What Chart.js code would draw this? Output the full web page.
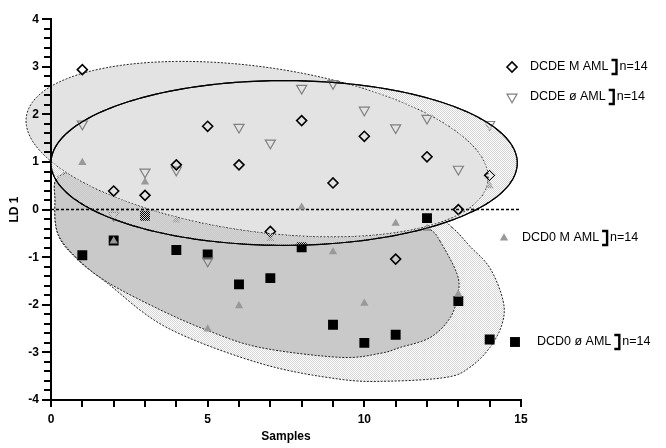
<!DOCTYPE html>
<html>
<head>
<meta charset="utf-8">
<script src="https://cdn.jsdelivr.net/npm/chart.js@4.4.0/dist/chart.umd.min.js"></script>
<style>
  html, body { margin: 0; padding: 0; background: #fff; }
  #wrap { width: 666px; height: 448px; position: relative; }
</style>
</head>
<body>
<div id="wrap"><canvas id="c" width="666" height="448"></canvas></div>
<script>
// Sample index on the x axis
const samples = [1, 2, 3, 4, 5, 6, 7, 8, 9, 10, 11, 12, 13, 14];

// LD 1 scores per group
const dcdeM = [2.94, 0.39, 0.30, 0.94, 1.75, 0.94, -0.46, 1.87, 0.56, 1.54, -1.04, 1.11, 0.00, 0.72];
const dcdeO = [1.80, -0.12, 0.79, 0.83, -1.08, 1.73, 1.40, 2.55, 2.65, 2.09, 1.72, 1.92, 0.85, 1.79];
const dcd0M = [0.99, -0.66, 0.58, -0.22, -2.51, -2.02, -0.61, 0.05, -0.89, -1.97, -0.29, -0.40, -1.78, 0.50];
const dcd0O = [-0.96, -0.65, -0.13, -0.85, -0.94, -1.57, -1.44, -0.79, -2.42, -2.80, -2.63, -0.18, -1.92, -2.73];

// Group names and sizes
const groupNames = ['DCDE M AML', 'DCDE ø AML', 'DCD0 M AML', 'DCD0 ø AML'];
const groupN = ['n=14', 'n=14', 'n=14', 'n=14'];

// Axis ranges, tick steps and labelled ticks
const xRange = [0, 15];
const yRange = [-4, 4];
const xStep = 1;
const yStep = 0.2;
const xLabelled = [0, 5, 10, 15];
const yLabelled = [-4, -3, -2, -1, 0, 1, 2, 3, 4];

// Upper group regions (ellipses in data units: centre, half-widths, tilt in degrees)
const regionDcdeDashed = { cx: 6.58, cy: 1.27, rx: 7.44, ry: 1.73, tilt: 8 };
const regionDcdeSolid  = { cx: 7.44, cy: 0.98, rx: 7.44, ry: 1.73, tilt: 0 };

// Lower group regions (closed outlines in data units)
const regionDcd0DarkX = [12.42, 12.96, 12.99, 12.74, 12.10, 11.14, 10.50, 9.22, 6.67, 5.01, 3.48, 1.79, 0.83, 0.22, 0.13, 0.29, 1.88, 4.76, 8.59, 11.30, 12.10];
const regionDcd0DarkY = [-0.667, -1.354, -1.771, -2.271, -2.688, -2.896, -3.021, -3.104, -2.896, -2.542, -2.104, -1.521, -1.021, -0.50, 0.167, 0.708, 0.833, 0.521, 0.104, -0.167, -0.417];
const regionDcd0DotX = [12.80, 13.37, 14.01, 14.43, 14.40, 14.01, 13.37, 12.64, 10.82, 9.22, 6.67, 3.70, 1.79, 0.83, 0.22, 0.13, 0.29, 1.88, 5.39, 9.22, 12.10];
const regionDcd0DotY = [-0.375, -0.771, -1.229, -1.917, -2.396, -2.896, -3.313, -3.521, -3.604, -3.563, -3.229, -2.479, -1.542, -1.042, -0.521, 0.167, 0.729, 0.875, 0.542, 0.167, -0.125];

const pts = (ys) => samples.map((x, i) => ({ x: x, y: ys[i] }));

const FONT = '"Liberation Sans", Arial, sans-serif';

function stipple(ctx, color) {
  const p = document.createElement('canvas');
  p.width = 2; p.height = 2;
  const g = p.getContext('2d');
  g.fillStyle = color;
  g.fillRect(0, 0, 1, 1);
  g.fillRect(1, 1, 1, 1);
  return ctx.createPattern(p, 'repeat');
}

function ellipsePath(ctx, chart, r, fresh = true) {
  const xs = chart.scales.x, ys = chart.scales.y;
  const cx = xs.getPixelForValue(r.cx), cy = ys.getPixelForValue(r.cy);
  const a = Math.abs(xs.getPixelForValue(r.rx) - xs.getPixelForValue(0));
  const b = Math.abs(ys.getPixelForValue(r.ry) - ys.getPixelForValue(0));
  const th = r.tilt * Math.PI / 180, c = Math.cos(th), s = Math.sin(th);
  const steps = 240;
  if (fresh) ctx.beginPath();
  for (let i = 0; i <= steps; i++) {
    const t = i / steps * Math.PI * 2;
    const u = a * Math.cos(t), v = b * Math.sin(t);
    const px = cx + u * c - v * s, py = cy + u * s + v * c;
    if (i === 0) ctx.moveTo(px, py); else ctx.lineTo(px, py);
  }
  ctx.closePath();
}

// Smooth closed curve (Catmull-Rom) through outline vertices
function outlinePath(ctx, chart, xsData, ysData) {
  const xs = chart.scales.x, ys = chart.scales.y;
  const P = xsData.map((x, i) => [xs.getPixelForValue(x), ys.getPixelForValue(ysData[i])]);
  const n = P.length;
  ctx.beginPath();
  ctx.moveTo(P[0][0], P[0][1]);
  for (let i = 0; i < n; i++) {
    const p0 = P[(i - 1 + n) % n], p1 = P[i], p2 = P[(i + 1) % n], p3 = P[(i + 2) % n];
    ctx.bezierCurveTo(
      p1[0] + (p2[0] - p0[0]) / 6, p1[1] + (p2[1] - p0[1]) / 6,
      p2[0] - (p3[0] - p1[0]) / 6, p2[1] - (p3[1] - p1[1]) / 6,
      p2[0], p2[1]);
  }
  ctx.closePath();
}

function dashedOutline(ctx) {
  ctx.save();
  ctx.setLineDash([2, 1.5]);
  ctx.lineWidth = 1;
  ctx.strokeStyle = '#222';
  ctx.stroke();
  ctx.restore();
}

function zeroLine(ctx, chart) {
  const xs = chart.scales.x, ys = chart.scales.y;
  const y = ys.getPixelForValue(0);
  ctx.save();
  ctx.setLineDash([3, 2]);
  ctx.lineWidth = 1.5;
  ctx.strokeStyle = '#000';
  ctx.beginPath();
  ctx.moveTo(xs.getPixelForValue(xRange[0]), y);
  ctx.lineTo(xs.getPixelForValue(xRange[1]), y);
  ctx.stroke();
  ctx.restore();
}

const regionsPlugin = {
  id: 'regions',
  beforeDraw(chart) {
    const ctx = chart.ctx;
    ctx.save();
    outlinePath(ctx, chart, regionDcd0DotX, regionDcd0DotY);
    ctx.fillStyle = stipple(ctx, '#d6d6d6');
    ctx.fill();
    dashedOutline(ctx);
    outlinePath(ctx, chart, regionDcd0DarkX, regionDcd0DarkY);
    ctx.fillStyle = '#c9c9c9';
    ctx.fill();
    dashedOutline(ctx);
    ellipsePath(ctx, chart, regionDcdeSolid);
    ctx.fillStyle = stipple(ctx, '#d4d4d4');
    ctx.fill();
    ellipsePath(ctx, chart, regionDcdeDashed);
    ctx.fillStyle = '#e3e3e3';
    ctx.fill();
    dashedOutline(ctx);
    ellipsePath(ctx, chart, regionDcdeSolid);
    ctx.lineWidth = 1.2;
    ctx.strokeStyle = '#000';
    ctx.stroke();
    zeroLine(ctx, chart);
    ctx.restore();
  },
  afterDatasetsDraw(chart) {
    // the dotted band of the solid region sits over the marks beneath it
    const ctx = chart.ctx;
    ctx.save();
    ellipsePath(ctx, chart, regionDcdeSolid);
    ctx.clip();
    ctx.beginPath();
    ctx.rect(0, 0, chart.width, chart.height);
    ellipsePath(ctx, chart, regionDcdeDashed, false);
    ctx.clip('evenodd');
    ctx.fillStyle = stipple(ctx, '#d4d4d4');
    ctx.fillRect(0, 0, chart.width, chart.height);
    zeroLine(ctx, chart);
    ctx.restore();
    ctx.save();
    ellipsePath(ctx, chart, regionDcdeSolid);
    ctx.lineWidth = 1.2;
    ctx.strokeStyle = '#000';
    ctx.stroke();
    ctx.restore();
  }
};

// Tick marks at every step on both axes, pointing outward
const tickPlugin = {
  id: 'tickMarks',
  afterDraw(chart) {
    const ctx = chart.ctx, xs = chart.scales.x, ys = chart.scales.y;
    const area = chart.chartArea;
    ctx.save();
    ctx.fillStyle = '#000';
    const nx = Math.round((xRange[1] - xRange[0]) / xStep);
    for (let i = 0; i <= nx; i++) {
      const px = Math.round(xs.getPixelForValue(xRange[0] + i * xStep));
      ctx.fillRect(px - 1, area.bottom, 2, 7);
    }
    const ny = Math.round((yRange[1] - yRange[0]) / yStep);
    for (let i = 0; i <= ny; i++) {
      const v = yRange[0] + i * yStep;
      const len = isAt(v, yLabelled) ? 9 : 7;
      const py = Math.round(ys.getPixelForValue(v));
      ctx.fillRect(area.left - len, py - 1, len, 2);
    }
    ctx.restore();
  }
};

const styles = [
  { pointStyle: 'rectRot', radius: 5, rotation: 0, borderWidth: 1.6, borderColor: '#000', backgroundColor: 'rgba(0,0,0,0)' },
  { pointStyle: 'triangle', radius: 5.8, rotation: 180, borderWidth: 1.2, borderColor: '#808080', backgroundColor: 'rgba(0,0,0,0)' },
  { pointStyle: 'triangle', radius: 4.8, rotation: 0, borderWidth: 0, borderColor: '#999', backgroundColor: '#999' },
  { pointStyle: 'rect', radius: 7, rotation: 0, borderWidth: 0, borderColor: '#000', backgroundColor: '#000' }
];

function drawMarker(ctx, st, x, y) {
  ctx.save();
  ctx.fillStyle = st.backgroundColor;
  ctx.strokeStyle = st.borderColor;
  ctx.lineWidth = st.borderWidth;
  if (Chart.helpers && Chart.helpers.drawPoint) {
    Chart.helpers.drawPoint(ctx, st, x, y);
  }
  ctx.restore();
}

const legendPlugin = {
  id: 'groupLegend',
  afterDraw(chart) {
    const ctx = chart.ctx;
    const rows = [
      { mx: 512, my: 67, tx: 530 },
      { mx: 512, my: 97, tx: 530 },
      { mx: 504, my: 238, tx: 522 },
      { mx: 515, my: 342, tx: 537 }
    ];
    ctx.save();
    ctx.font = '12.5px ' + FONT;
    ctx.textBaseline = 'middle';
    rows.forEach((r, i) => {
      drawMarker(ctx, styles[i], r.mx, r.my);
      ctx.fillStyle = '#000';
      ctx.textAlign = 'left';
      ctx.fillText(groupNames[i], r.tx, r.my);
      const bx = r.tx + ctx.measureText(groupNames[i]).width + 3;
      ctx.beginPath();
      ctx.moveTo(bx, r.my - 7);
      ctx.lineTo(bx + 5, r.my - 7);
      ctx.lineTo(bx + 5, r.my + 7);
      ctx.lineTo(bx, r.my + 7);
      ctx.lineWidth = 2.4;
      ctx.strokeStyle = '#000';
      ctx.stroke();
      ctx.fillText(groupN[i], bx + 8, r.my);
    });
    ctx.restore();
  }
};

const datasets = [dcdeM, dcdeO, dcd0M, dcd0O].map((ys, i) => ({
  label: groupNames[i],
  data: pts(ys),
  pointStyle: styles[i].pointStyle,
  pointRadius: styles[i].radius,
  pointRotation: styles[i].rotation,
  pointBorderWidth: styles[i].borderWidth,
  pointBorderColor: styles[i].borderColor,
  pointBackgroundColor: styles[i].backgroundColor,
  showLine: false,
  order: i
}));

function isAt(v, list) { return list.some(t => Math.abs(t - v) < 1e-6); }

new Chart(document.getElementById('c'), {
  type: 'scatter',
  data: { datasets },
  options: {
    responsive: false,
    animation: false,
    events: [],
    layout: { padding: { left: 0, top: 16, right: 145, bottom: 0 } },
    plugins: { legend: { display: false }, tooltip: { enabled: false } },
    scales: {
      x: {
        type: 'linear',
        min: xRange[0], max: xRange[1],
        afterFit: (s) => { s.height = 48; },
        border: { display: true, color: '#000', width: 2 },
        grid: { display: true, drawOnChartArea: false, drawTicks: false },
        ticks: {
          stepSize: xStep, autoSkip: false, maxRotation: 0, padding: 12,
          color: '#000', font: { family: FONT, size: 12, weight: 'bold' },
          callback: (v) => isAt(v, xLabelled) ? String(Math.round(v)) : ''
        },
        title: { display: true, text: 'Samples', color: '#000', padding: { top: 0, bottom: 4 },
                 font: { family: FONT, size: 12, weight: 'bold' } }
      },
      y: {
        type: 'linear',
        min: yRange[0], max: yRange[1],
        afterFit: (s) => { s.width = 51; },
        border: { display: true, color: '#000', width: 2 },
        grid: { display: true, drawOnChartArea: false, drawTicks: false },
        ticks: {
          stepSize: yStep, autoSkip: false, padding: 12,
          color: '#000', font: { family: FONT, size: 12, weight: 'bold' },
          callback: (v) => isAt(v, yLabelled) ? String(Math.round(v)) : ''
        },
        title: { display: true, text: 'LD 1', color: '#000', padding: { top: 7, bottom: 0 },
                 font: { family: FONT, size: 12, weight: 'bold' } }
      }
    }
  },
  plugins: [regionsPlugin, tickPlugin, legendPlugin]
});
</script>
</body>
</html>
